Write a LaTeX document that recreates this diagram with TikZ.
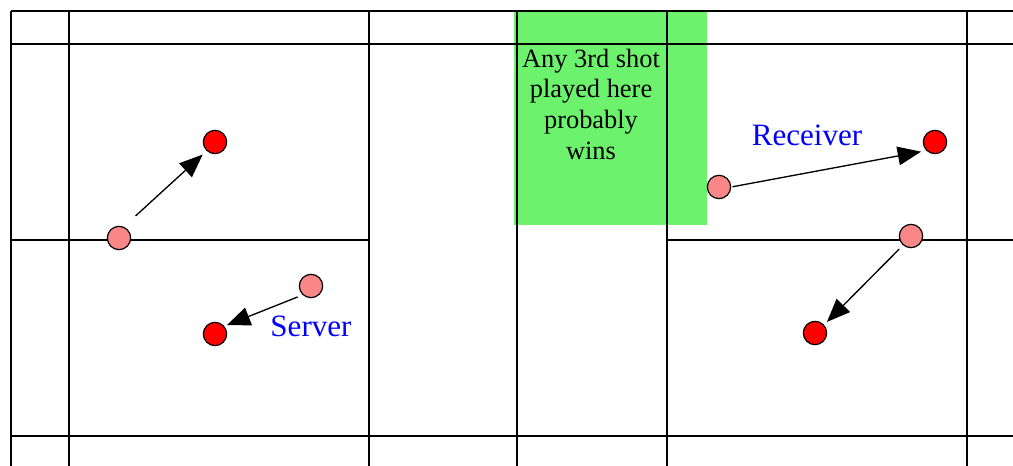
\documentclass[tikz,border=0pt]{standalone}
\usepackage{fontspec}
\setmainfont{Liberation Serif}
\usepackage{xcolor}
\usepackage{tikz}
\usetikzlibrary{arrows.meta}

\definecolor{zonegreen}{RGB}{108,242,108}
\definecolor{ghostpink}{RGB}{250,135,135}

\begin{document}
\begin{tikzpicture}[x=0.75pt, y=-0.75pt,
    court/.style={draw, line width=1.2pt},
    midline/.style={draw, line width=1.6pt},
    ghost/.style={circle, draw, line width=0.9pt, fill=ghostpink, minimum size=17.5pt, inner sep=0pt},
    spot/.style={circle, draw, line width=0.9pt, fill=red, minimum size=17.5pt, inner sep=0pt},
    shot/.style={draw, line width=1pt, -{Triangle[length=17.5pt, width=14pt]}},
    who/.style={text=blue, anchor=base, font=\rmfamily\fontsize{23.3}{27}\selectfont}
]
    \useasboundingbox (0,0) rectangle (1013,466);

    % Winning zone
    \fill[zonegreen] (514,12) rectangle (707,225);
    \node[align=center, inner sep=0pt, font=\rmfamily\fontsize{19.8}{23}\selectfont] (zone) at (591,104)
        {Any 3rd shot\\played here\\probably\\wins};

    % Court lines
    \draw[court] (11,11) -- (1013,11);
    \draw[court] (11,44) -- (1013,44);
    \draw[court] (11,436) -- (1013,436);
    \draw[court] (11,240) -- (369,240);
    \draw[court] (667,240) -- (1013,240);
    \foreach \x in {11,69,369,667,967}
        \draw[court] (\x,11) -- (\x,466);
    \draw[midline] (517,11) -- (517,466);

    % Server side
    \node[ghost] (srvA) at (119,238) {};
    \node[spot] (srvA2) at (215,142) {};
    \node[ghost] (srvB) at (311,286) {};
    \node[spot] (srvB2) at (215,334) {};
    \node[who] (server) at (311,337) {Server};

    % Receiver side
    \node[ghost] (rcvA) at (719,187) {};
    \node[spot] (rcvA2) at (935,142) {};
    \node[ghost] (rcvB) at (911,236) {};
    \node[spot] (rcvB2) at (815,333) {};
    \node[who] (receiver) at (807,146) {Receiver};

    % Movements
    \draw[shot, shorten <=12pt, shorten >=4pt] (srvA.67) -- (srvA2.227);
    \draw[shot, shorten <=4pt, shorten >=2pt] (srvB.227) -- (srvB2.40);
    \draw[shot, shorten <=1pt, shorten >=4pt] (rcvA.east) -- (rcvA2.south west);
    \draw[shot, shorten <=4pt, shorten >=3pt] (rcvB.229) -- (rcvB2.42);

\end{tikzpicture}
\end{document}
